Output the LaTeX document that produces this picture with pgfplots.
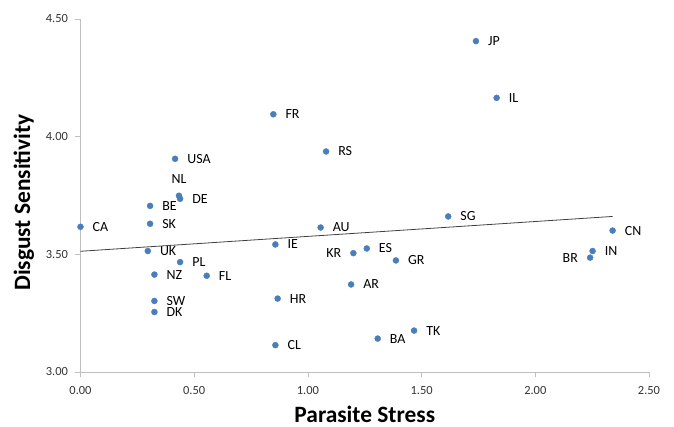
\documentclass[border=0pt]{standalone}
\usepackage{fontspec}
\setmainfont{Carlito}
\usepackage{pgfplots}
\pgfplotsset{compat=1.18}
\usepackage{pgfplotstable}

\definecolor{dotblue}{HTML}{4A7EBB}
\definecolor{axgray}{HTML}{BFBFBF}

% labels to the right of the dot
\pgfplotstableread{
x     y     lab
0.000 3.617 CA
0.416 3.906 USA
0.438 3.736 DE
0.306 3.706 BE
0.306 3.630 SK
0.296 3.514 UK
0.438 3.467 PL
0.325 3.414 NZ
0.555 3.409 FL
0.325 3.302 SW
0.325 3.255 DK
0.848 4.095 FR
1.080 3.937 RS
1.056 3.614 AU
0.857 3.542 IE
1.259 3.525 ES
1.387 3.474 GR
1.190 3.372 AR
0.867 3.312 HR
0.857 3.114 CL
1.307 3.142 BA
1.467 3.176 TK
1.739 4.406 JP
1.830 4.165 IL
1.617 3.661 SG
2.340 3.601 CN
2.252 3.514 IN
}\rightlab

% labels to the left of the dot
\pgfplotstableread{
x     y     lab
1.200 3.505 KR
2.241 3.486 BR
}\leftlab

% label above the dot
\pgfplotstableread{
x     y     lab
0.433 3.749 NL
}\toplab

\begin{document}
\begin{tikzpicture}
\path[use as bounding box] (0,0) rectangle (674bp,427bp);
\begin{axis}[
  at={(80.5bp,55bp)}, anchor=south west,
  scale only axis,
  width=568.5bp, height=353bp,
  xmin=0, xmax=2.5,
  ymin=3, ymax=4.5,
  xtick={0,0.5,1,1.5,2,2.5},
  ytick={3,3.5,4,4.5},
  axis lines*=left,
  axis line style={axgray, line width=1bp},
  tick style={axgray, line width=0.8bp},
  major tick length=5bp,
  tick align=outside,
  ticklabel style={font=\fontsize{12.5}{14}\selectfont, text=black!80},
  xticklabel style={yshift=-6bp},
  yticklabel style={xshift=-4bp},
  /pgf/number format/.cd, fixed, fixed zerofill, precision=2, assume math mode=true,
  /pgfplots/.cd,
  xlabel={Parasite Stress},
  ylabel={Disgust Sensitivity},
  xlabel style={font=\fontsize{23.5}{26}\selectfont\bfseries,
    at={(axis description cs:0.5,-0.144)}, anchor=base},
  ylabel style={font=\fontsize{23.5}{26}\selectfont\bfseries,
    at={(axis description cs:-0.0888,0.48)}, anchor=base},
  clip=false,
]
\addplot[black!75, line width=0.8bp] coordinates {(0,3.513) (2.340,3.661)};

\addplot[only marks, mark=*, mark size=3bp, mark options={draw=dotblue, fill=dotblue},
  point meta=explicit symbolic, nodes near coords,
  every node near coord/.append style={anchor=west, inner sep=0pt, xshift=12bp,
    font=\fontsize{14}{16}\selectfont, text=black}]
  table[x=x, y=y, meta=lab] {\rightlab};

\addplot[only marks, mark=*, mark size=3bp, mark options={draw=dotblue, fill=dotblue},
  point meta=explicit symbolic, nodes near coords,
  every node near coord/.append style={anchor=east, inner sep=0pt, xshift=-12bp,
    font=\fontsize{14}{16}\selectfont, text=black}]
  table[x=x, y=y, meta=lab] {\leftlab};

\addplot[only marks, mark=*, mark size=3bp, mark options={draw=dotblue, fill=dotblue},
  point meta=explicit symbolic, nodes near coords,
  every node near coord/.append style={anchor=center, inner sep=0pt, yshift=17bp,
    font=\fontsize{14}{16}\selectfont, text=black}]
  table[x=x, y=y, meta=lab] {\toplab};
\end{axis}
\end{tikzpicture}
\end{document}
